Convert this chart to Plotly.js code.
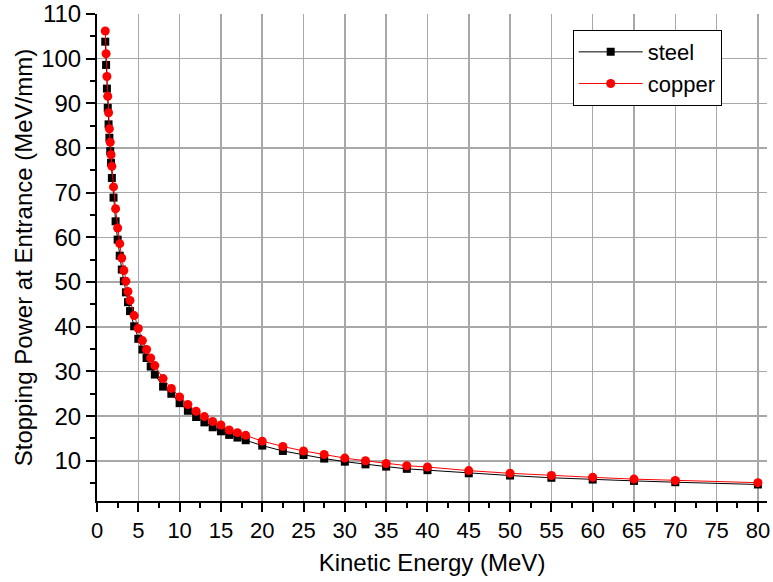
<!DOCTYPE html>
<html>
<head>
<meta charset="utf-8">
<script src="https://cdn.plot.ly/plotly-3.0.1.min.js"></script>
<style>html,body{margin:0;padding:0;background:#fff;}#chart{width:773px;height:582px;}</style>
</head>
<body>
<div id="chart"></div>
<script>
// Kinetic energy (MeV)
const energy = [1.0, 1.1, 1.2, 1.3, 1.4, 1.5, 1.6, 1.7, 1.8, 2.0, 2.25, 2.5, 2.75, 3.0, 3.25, 3.5, 3.75, 4.0, 4.5, 5.0, 5.5, 6.0, 6.5, 7.0, 8.0, 9.0, 10, 11, 12, 13, 14, 15, 16, 17, 18, 20, 22.5, 25, 27.5, 30, 32.5, 35, 37.5, 40, 45, 50, 55, 60, 65, 70, 80];
// Stopping power at entrance (MeV/mm)
const steel = [103.8, 98.6, 93.3, 89.0, 85.3, 82.3, 79.3, 76.7, 73.3, 68.9, 63.6, 59.5, 55.9, 52.8, 50.2, 47.7, 45.5, 43.5, 40.1, 37.3, 34.9, 33.0, 31.1, 29.3, 26.6, 25.0, 22.9, 21.2, 19.8, 18.6, 17.5, 16.6, 15.8, 15.2, 14.6, 13.4, 12.2, 11.3, 10.5, 9.8, 9.2, 8.7, 8.2, 7.9, 7.2, 6.7, 6.2, 5.8, 5.5, 5.2, 4.7];
const copper = [106.2, 101.1, 96.0, 91.6, 87.9, 84.3, 81.3, 78.5, 75.9, 71.3, 66.4, 62.1, 58.6, 55.4, 52.6, 50.2, 47.9, 45.9, 42.5, 39.6, 36.9, 34.9, 33.0, 31.3, 28.4, 26.2, 24.3, 22.6, 21.1, 19.9, 18.8, 18.0, 16.9, 16.3, 15.7, 14.4, 13.2, 12.2, 11.4, 10.6, 10.0, 9.4, 8.9, 8.6, 7.8, 7.2, 6.7, 6.3, 5.9, 5.6, 5.1];

const font = 'Arial, "Liberation Sans", sans-serif';
const traces = [
  {x: energy, y: steel, name: 'steel', mode: 'lines+markers', type: 'scatter',
   line: {color: '#000000', width: 1}, marker: {symbol: 'square', size: 8, color: '#000000'}},
  {x: energy, y: copper, name: 'copper', mode: 'lines+markers', type: 'scatter',
   line: {color: '#ff0000', width: 1}, marker: {symbol: 'circle', size: 9, color: '#ff0000'}}
];
const gridc = '#a8a8a8';
const layout = {
  width: 773, height: 582,
  margin: {l: 97, r: 6, t: 14, b: 81, pad: 0},
  paper_bgcolor: '#ffffff', plot_bgcolor: '#ffffff',
  font: {family: font, color: '#000', size: 22},
  showlegend: true,
  legend: {x: 0.71, y: 0.967, xanchor: 'left', yanchor: 'top', bgcolor: '#ffffff',
    bordercolor: '#000', borderwidth: 1, font: {family: font, size: 22, color: '#000'},
    itemwidth: 64, tracegroupgap: 0},
  xaxis: {range: [0, 81.1], tickmode: 'linear', tick0: 0, dtick: 5,
    showgrid: true, gridcolor: gridc, gridwidth: 1.5, zeroline: false,
    showline: true, linecolor: '#000', linewidth: 2, ticks: 'outside', ticklen: 9, tickwidth: 2, tickcolor: '#000',
    minor: {dtick: 2.5, ticks: 'outside', ticklen: 5, tickwidth: 2, tickcolor: '#000', showgrid: false},
    tickfont: {family: font, size: 22},
    title: {text: 'Kinetic Energy (MeV)', font: {family: font, size: 24}, standoff: 12}},
  yaxis: {range: [1, 110], tickmode: 'linear', tick0: 10, dtick: 10,
    showgrid: true, gridcolor: gridc, gridwidth: 1.5, zeroline: false,
    showline: true, linecolor: '#000', linewidth: 2, ticks: 'outside', ticklen: 9, tickwidth: 2, tickcolor: '#000',
    minor: {dtick: 5, tick0: 0, ticks: 'outside', ticklen: 5, tickwidth: 2, tickcolor: '#000', showgrid: false},
    tickfont: {family: font, size: 24},
    title: {text: 'Stopping Power at Entrance (MeV/mm)', font: {family: font, size: 24}, standoff: 2}}
};
Plotly.newPlot('chart', traces, layout, {displayModeBar: false, staticPlot: true});
</script>
</body>
</html>
